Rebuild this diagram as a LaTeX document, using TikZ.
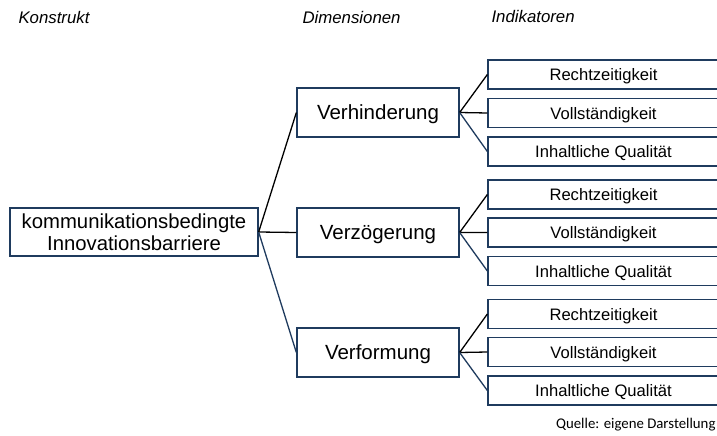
\documentclass[tikz,border=0pt]{standalone}
\usepackage{fontspec}
\setmainfont{Liberation Sans}
\newfontfamily\quellefont{Carlito}
\usepackage{tikz}
\usepackage{xcolor}
\usetikzlibrary{positioning}

\definecolor{navy}{HTML}{1F3B5E}

\tikzset{
  box/.style={draw=navy, line width=1.3pt, inner sep=0pt, align=center, text depth=0pt},
  konstrukt/.style={box, minimum width=248pt, minimum height=48pt, font=\fontsize{20.3}{22}\selectfont},
  dimension/.style={box, minimum width=162pt, minimum height=49pt, font=\fontsize{20.5}{22}\selectfont},
  indikator/.style={box, minimum width=231pt, minimum height=29pt, font=\fontsize{16.6}{18}\selectfont},
  kopf/.style={anchor=west, font=\fontsize{16.8}{18}\selectfont\itshape},
  up/.style={black, line width=1.3pt},
  down/.style={navy, line width=1.3pt}
}

\begin{document}
\begin{tikzpicture}[x=1pt, y=-1pt]
  \useasboundingbox (0,0) rectangle (717,436);
  \fill[white] (0,0) rectangle (717,436);

  % Spaltenkoepfe
  \node[kopf] (hk) at (15, 17) {Konstrukt};
  \node[kopf] (hd) at (299, 17) {Dimensionen};
  \node[kopf] (hi) at (488, 17) {Indikatoren};

  \node[konstrukt] (k) at (134, 232) {kommunikationsbedingte\\Innovationsbarriere};

  \node[dimension] (d1) at (378, 112.5) {Verhinderung};
  \node[dimension] (d2) at (378, 232.5) {Verzögerung};
  \node[dimension] (d3) at (378, 352.5) {Verformung};

  \node[indikator] (r1) at (603.5, 74.5) {Rechtzeitigkeit};
  \node[indikator] (v1) at (603.5, 113) {Vollständigkeit};
  \node[indikator] (q1) at (603.5, 151.5) {Inhaltliche Qualität};
  \node[indikator] (r2) at (603.5, 194.5) {Rechtzeitigkeit};
  \node[indikator] (v2) at (603.5, 232.5) {Vollständigkeit};
  \node[indikator] (q2) at (603.5, 271) {Inhaltliche Qualität};
  \node[indikator] (r3) at (603.5, 314) {Rechtzeitigkeit};
  \node[indikator] (v3) at (603.5, 352) {Vollständigkeit};
  \node[indikator] (q3) at (603.5, 390.5) {Inhaltliche Qualität};

  \draw[up] (k.east) -- (d1.west) (k.east) -- (d2.west);
  \draw[down] (k.east) -- (d3.west);

  \draw[up] (d1.east) -- (r1.west) (d1.east) -- (v1.west);
  \draw[down] (d1.east) -- (q1.west);
  \draw[up] (d2.east) -- (r2.west) (d2.east) -- (v2.west);
  \draw[down] (d2.east) -- (q2.west);
  \draw[up] (d3.east) -- (r3.west) (d3.east) -- (v3.west);
  \draw[down] (d3.east) -- (q3.west);

  \node[anchor=east, font=\quellefont\fontsize{14.8}{16}\selectfont] (quelle) at (719, 425) {Quelle: eigene Darstellung};
\end{tikzpicture}
\end{document}
